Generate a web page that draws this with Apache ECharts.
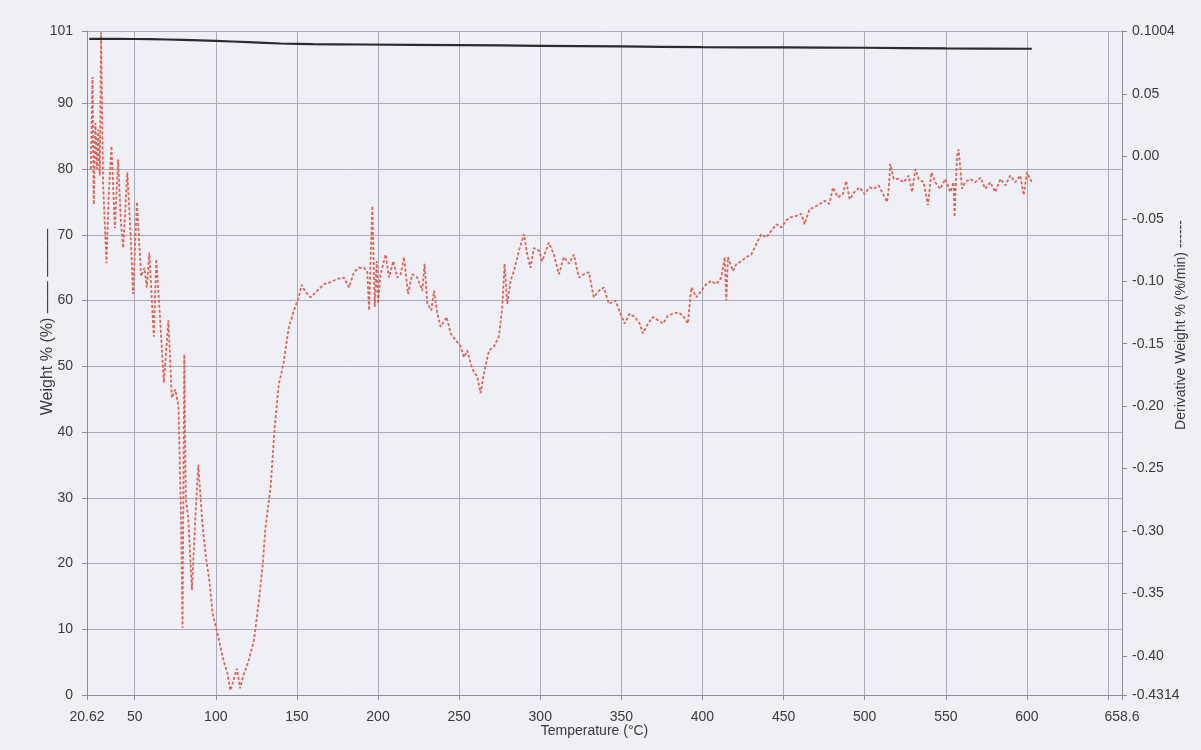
<!DOCTYPE html>
<html><head><meta charset="utf-8">
<script src="https://cdn.jsdelivr.net/npm/echarts@6/dist/echarts.min.js"></script>
<style>html,body{margin:0;padding:0;background:#eef0f6}#c{width:1201px;height:750px}</style>
</head><body><div id="c"></div>
<script>
// Weight % vs temperature (solid black)
const weightPoints = [[22,99.8],[40,99.8],[60,99.75],[80,99.65],[100,99.5],[120,99.3],[140,99.1],[160,99.0],[190,98.95],[250,98.85],[300,98.75],[350,98.65],[400,98.55],[450,98.5],[500,98.45],[550,98.35],[603,98.3]];
// Derivative weight % (%/min) vs temperature (dashed red)
const derivPoints = [
[23.0,-0.0102],[24.0,0.0635],[24.8,-0.0386],[25.8,0.0267],[26.8,-0.0102],[27.5,0.0214],[28.5,-0.0154],[29.3,0.0993],[30.5,-0.0207],[32.6,-0.0855],
[34.0,-0.0312],[35.7,0.0083],[37.8,-0.0576],[39.8,-0.0023],[41.5,-0.0523],[42.9,-0.0734],[45.5,-0.0128],[47.5,-0.0628],[49.0,-0.1102],[51.4,-0.0365],
[53.0,-0.0734],[54.0,-0.0960],[56.0,-0.0892],[57.5,-0.1050],[59.0,-0.0770],[61.8,-0.1444],[63.3,-0.0823],[65.0,-0.1155],[68.0,-0.1813],[70.8,-0.1313],
[72.9,-0.1934],[75.0,-0.1866],[77.0,-0.1997],[78.5,-0.2840],[79.5,-0.3777],[80.6,-0.1587],[81.5,-0.2734],[83.0,-0.2892],[85.3,-0.3472],[87.5,-0.2871],
[89.2,-0.2471],[91.8,-0.2945],[93.9,-0.3208],[96.0,-0.3393],[98.0,-0.3656],[102.0,-0.3877],[105.0,-0.4051],[107.0,-0.4130],[109.0,-0.4277],[111.0,-0.4193],
[113.0,-0.4103],[115.0,-0.4261],[117.0,-0.4156],[120.0,-0.4051],[123.5,-0.3877],[126.5,-0.3566],[129.0,-0.3261],[130.6,-0.2977],[133.7,-0.2661],[136.3,-0.2176],
[138.8,-0.1829],[141.8,-0.1655],[144.9,-0.1376],[148.0,-0.1239],[151.0,-0.1134],[153.0,-0.1029],[155.0,-0.1081],[158.5,-0.1129],[162.6,-0.1076],[166.7,-0.1023],
[170.8,-0.1007],[175.0,-0.0981],[179.0,-0.0971],[182.1,-0.1050],[185.2,-0.0928],[188.3,-0.0892],[191.4,-0.0892],[193.4,-0.0928],[194.5,-0.1234],[196.5,-0.0397],
[198.0,-0.1207],[199.2,-0.0839],[200.0,-0.1181],[201.6,-0.0944],[204.7,-0.0786],[206.8,-0.0971],[209.4,-0.0839],[211.9,-0.0971],[214.0,-0.0944],[216.0,-0.0807],
[218.5,-0.1102],[221.1,-0.0944],[224.2,-0.0971],[227.3,-0.1076],[228.7,-0.0860],[230.4,-0.1181],[232.9,-0.1234],[234.5,-0.1076],[236.6,-0.1260],[238.6,-0.1365],
[242.3,-0.1287],[244.8,-0.1418],[247.8,-0.1471],[251.0,-0.1523],[253.0,-0.1608],[255.0,-0.1555],[258.1,-0.1702],[261.2,-0.1766],[263.2,-0.1897],[265.3,-0.1739],
[268.4,-0.1555],[271.5,-0.1523],[274.5,-0.1444],[276.6,-0.1207],[278.0,-0.0860],[279.7,-0.1181],[281.7,-0.0997],[283.8,-0.0918],[286.9,-0.0755],[290.0,-0.0623],
[292.0,-0.0786],[294.0,-0.0892],[296.1,-0.0734],[299.2,-0.0755],[301.2,-0.0839],[305.3,-0.0691],[308.4,-0.0786],[311.5,-0.0944],[314.6,-0.0807],[317.7,-0.0860],
[320.7,-0.0786],[323.8,-0.0971],[326.9,-0.0944],[330.0,-0.0928],[333.0,-0.1129],[336.1,-0.1076],[339.2,-0.1050],[342.3,-0.1181],[346.4,-0.1155],[349.5,-0.1260],
[352.0,-0.1339],[355.1,-0.1260],[358.2,-0.1287],[361.3,-0.1339],[363.3,-0.1418],[366.4,-0.1339],[369.5,-0.1287],[372.6,-0.1313],[375.7,-0.1339],[378.7,-0.1276],
[381.8,-0.1260],[384.9,-0.1250],[388.0,-0.1276],[391.0,-0.1339],[393.1,-0.1050],[396.2,-0.1129],[399.3,-0.1076],[402.4,-0.1023],[405.4,-0.0997],[408.5,-0.1023],
[411.6,-0.0971],[413.7,-0.0807],[414.7,-0.1155],[415.7,-0.0807],[418.8,-0.0918],[420.8,-0.0865],[423.9,-0.0839],[427.0,-0.0807],[430.1,-0.0786],[433.2,-0.0702],
[436.2,-0.0623],[439.3,-0.0649],[442.4,-0.0597],[445.5,-0.0544],[448.6,-0.0570],[451.6,-0.0512],[454.7,-0.0486],[457.8,-0.0476],[460.9,-0.0460],[462.9,-0.0544],
[466.0,-0.0423],[469.1,-0.0407],[472.2,-0.0381],[475.3,-0.0355],[478.3,-0.0381],[480.4,-0.0249],[483.5,-0.0328],[486.6,-0.0302],[488.6,-0.0197],[490.7,-0.0344],
[493.7,-0.0286],[496.8,-0.0249],[499.9,-0.0302],[503.0,-0.0249],[505.5,-0.0260],[508.6,-0.0233],[511.7,-0.0312],[513.8,-0.0365],[514.8,-0.0260],[515.8,-0.0060],
[517.9,-0.0181],[520.9,-0.0181],[524.0,-0.0207],[527.1,-0.0154],[529.2,-0.0286],[531.2,-0.0102],[533.3,-0.0181],[536.3,-0.0207],[539.0,-0.0391],[541.1,-0.0128],
[543.5,-0.0207],[546.6,-0.0260],[549.7,-0.0181],[552.8,-0.0286],[554.8,-0.0207],[555.4,-0.0486],[556.9,0.0004],[557.9,0.0056],[560.0,-0.0260],[562.0,-0.0207],
[565.1,-0.0181],[568.2,-0.0207],[571.3,-0.0170],[574.3,-0.0260],[577.4,-0.0207],[580.5,-0.0286],[583.6,-0.0181],[586.7,-0.0233],[589.7,-0.0154],[592.8,-0.0207],
[595.9,-0.0154],[598.0,-0.0312],[600.0,-0.0128],[603.0,-0.0207]
];
// Axis ticks / labels
const xMin = 20.62, xMax = 658.6;
const xTickValues = [20.62,50,100,150,200,250,300,350,400,450,500,550,600,650,658.6];
const xLabelValues = [20.62,50,100,150,200,250,300,350,400,450,500,550,600,658.6];
const leftMin = 0, leftMax = 101;
const leftTickValues = [0,10,20,30,40,50,60,70,80,90,101];
const rightMin = -0.4314, rightMax = 0.1004;
const rightTickValues = [-0.4314,-0.40,-0.35,-0.30,-0.25,-0.20,-0.15,-0.10,-0.05,0.00,0.05,0.1004];

const FONT = 'Liberation Sans, Arial, sans-serif';
const TXT = '#3a3a40';
const GRIDC = '#acabb9';
const AXISC = '#8c8c98';

const chart = echarts.init(document.getElementById('c'));
chart.setOption({
  backgroundColor: '#eef0f6',
  animation: false,
  grid: {left: 87, right: 79, top: 31, bottom: 55, containLabel: false, outerBoundsMode: 'none'},
  xAxis: {
    type: 'value', min: xMin, max: xMax,
    name: 'Temperature (°C)', nameLocation: 'middle', nameGap: 29, nameMoveOverlap: false,
    nameTextStyle: {color: TXT, fontSize: 14, fontFamily: FONT, padding: [0,20,0,0]},
    axisLine: {show: true, lineStyle: {color: AXISC, width: 1}},
    axisTick: {show: true, length: 5, customValues: xTickValues, lineStyle: {color: AXISC}},
    axisLabel: {customValues: xLabelValues, margin: 15, color: TXT, fontSize: 14, fontFamily: FONT,
      formatter: v => String(v)},
    splitLine: {show: true, lineStyle: {color: GRIDC, width: 1}}
  },
  yAxis: [{
    type: 'value', min: leftMin, max: leftMax, position: 'left',
    name: 'Weight % (%) —— ———', nameLocation: 'middle', nameGap: 31, nameRotate: 90, nameMoveOverlap: false,
    nameTextStyle: {color: TXT, fontSize: 16, fontFamily: FONT, padding: [0,0,0,82]},
    axisLine: {show: true, lineStyle: {color: AXISC, width: 1}},
    axisTick: {show: true, length: 5, customValues: leftTickValues, lineStyle: {color: AXISC}},
    axisLabel: {customValues: leftTickValues, margin: 14, color: TXT, fontSize: 14, fontFamily: FONT},
    splitLine: {show: true, lineStyle: {color: GRIDC, width: 1}}
  }, {
    type: 'value', min: rightMin, max: rightMax, position: 'right',
    name: 'Derivative Weight % (%/min) ------', nameLocation: 'middle', nameGap: 52, nameRotate: 90, nameMoveOverlap: false,
    nameTextStyle: {color: TXT, fontSize: 14, fontFamily: FONT, padding: [0,0,0,76]},
    axisLine: {show: true, lineStyle: {color: AXISC, width: 1}},
    axisTick: {show: true, length: 5, customValues: rightTickValues, lineStyle: {color: AXISC}},
    axisLabel: {customValues: rightTickValues, margin: 10, color: TXT, fontSize: 14, fontFamily: FONT,
      formatter: v => (v === rightMin || v === rightMax) ? String(v) : v.toFixed(2)},
    splitLine: {show: false}
  }],
  series: [{
    name: 'Weight %', type: 'line', yAxisIndex: 0, data: weightPoints,
    showSymbol: false, smooth: 0.3,
    lineStyle: {color: '#2b2b2e', width: 2.2}, z: 3
  }, {
    name: 'Derivative Weight %', type: 'line', yAxisIndex: 1, data: derivPoints,
    showSymbol: false,
    lineStyle: {color: '#dd6558', width: 1.8, type: [3, 2]}, z: 2
  }]
});
</script></body></html>
